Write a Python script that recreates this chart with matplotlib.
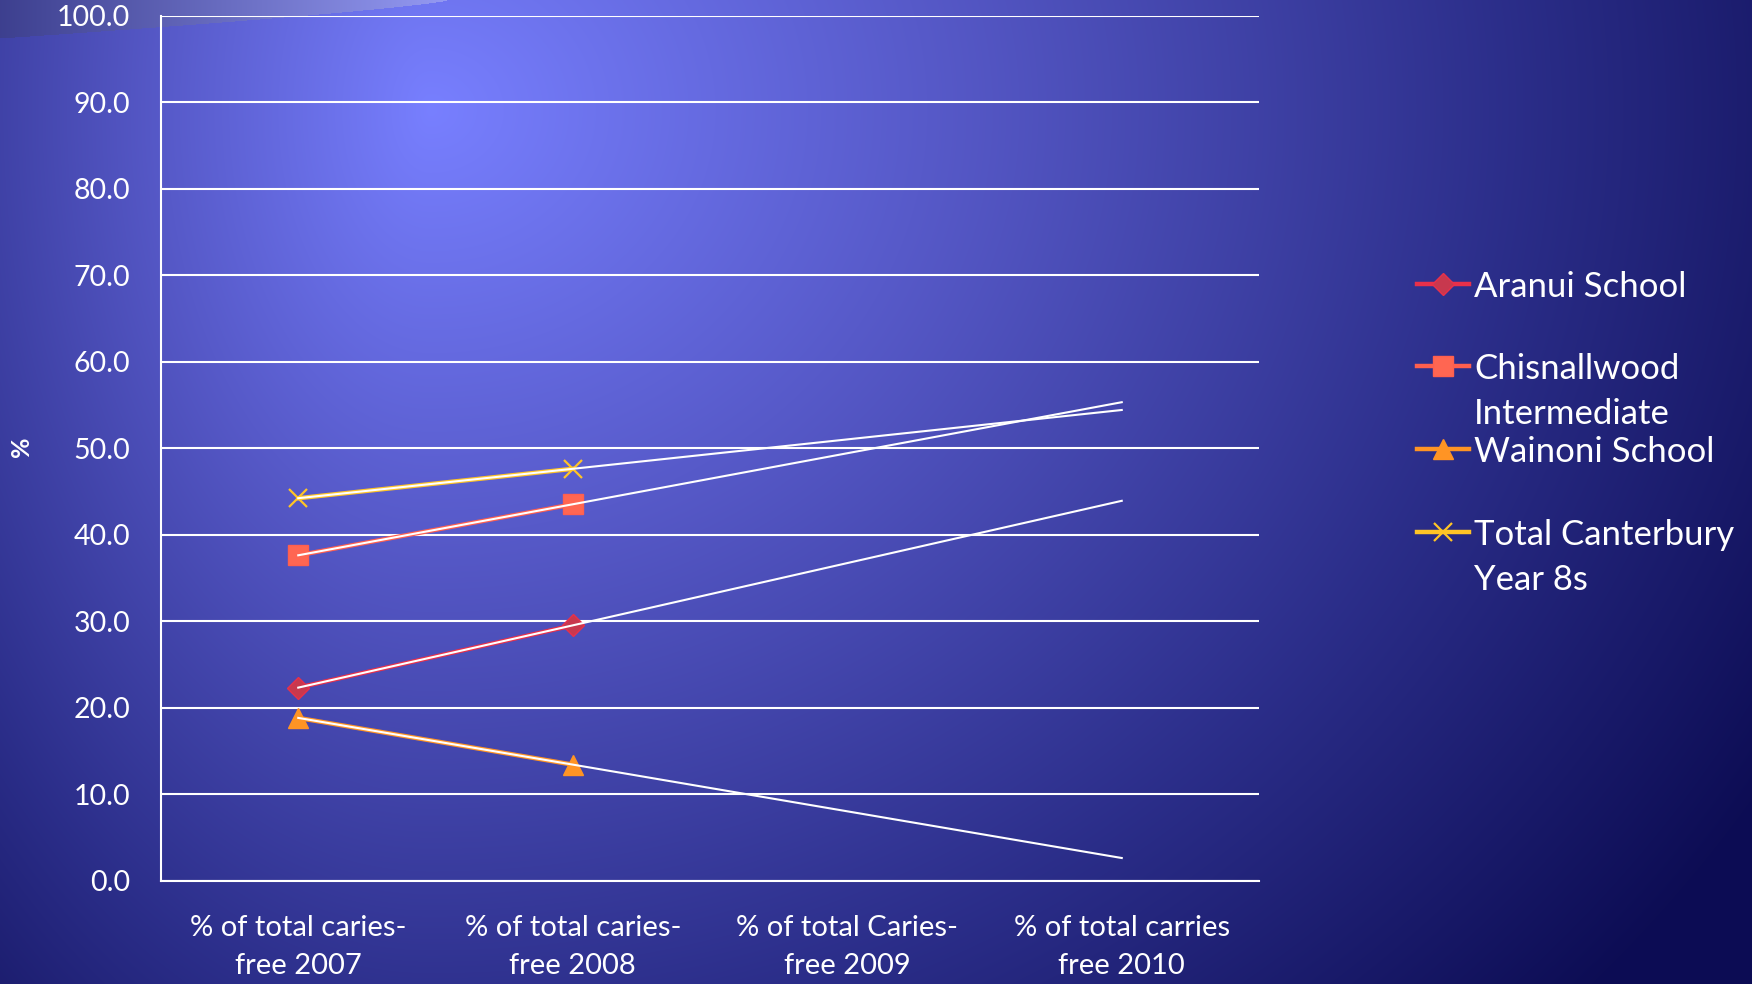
import numpy as np
import matplotlib.pyplot as plt
from matplotlib.lines import Line2D

plt.rcParams['font.family'] = ['Lato', 'DejaVu Sans']

categories = ['% of total caries-\nfree 2007', '% of total caries-\nfree 2008',
              '% of total Caries-\nfree 2009', '% of total carries\nfree 2010']
series_names = ['Aranui School', 'Chisnallwood\nIntermediate', 'Wainoni School',
                'Total Canterbury\nYear 8s']
aranui = [22.3, 29.5]
chisnallwood = [37.6, 43.5]
wainoni = [18.8, 13.4]
total_canterbury = [44.2, 47.6]

colors = ['#E8304A', '#FF5F4E', '#FF9424', '#FFC426']
marker_faces = ['#C8384E', '#FF6652', '#FF9424', '#FFC426']
markers = ['D', 's', '^', 'x']
msizes = [11, 14, 14, 13]

W, H = 1752, 984
fig = plt.figure(figsize=(W / 100, H / 100), dpi=100)

# background gradient
yy, xx = np.mgrid[0:H, 0:W].astype(float)
cx, cy = 430, 110
sx = np.where(xx < cx, 720.0, 1350.0)
d = np.sqrt(((xx - cx) / sx) ** 2 + ((yy - cy) / 1150.0) ** 2)
stops = [0.0, 0.4, 0.8, 1.15]
rgb = [(0.47, 0.50, 1.0), (0.33, 0.34, 0.77), (0.17, 0.18, 0.54), (0.05, 0.05, 0.33)]
img = np.dstack([np.interp(d, stops, [c[i] for c in rgb]) for i in range(3)])
# light swoosh in the top-left corner
curve = 38 * np.clip(1 - xx / 447.0, 0, 1) ** 0.8
mask = yy < curve
t = np.clip(xx / 447.0, 0, 1)
for i, (a, b) in enumerate(zip((0.24, 0.25, 0.56), (0.58, 0.60, 0.95))):
    img[..., i] = np.where(mask, a + (b - a) * t, img[..., i])
bg = fig.add_axes([0, 0, 1, 1], zorder=-10)
bg.imshow(img, aspect='auto', extent=[0, 1, 0, 1])
bg.axis('off')

ax = fig.add_axes([161 / W, 1 - 880.5 / H, (1259 - 161) / W, (880.5 - 15.6) / H])
ax.patch.set_alpha(0)
x = np.arange(len(categories))
data = [aranui, chisnallwood, wainoni, total_canterbury]

for vals, c, mf, m, ms in zip(data, colors, marker_faces, markers, msizes):
    xs = x[:len(vals)]
    ax.plot(xs, vals, color=c, lw=3.2, zorder=3)
    if m == 'x':
        ax.plot(xs, vals, ls='none', marker=m, ms=ms, mew=1.6, color=c, zorder=4)
    else:
        ax.plot(xs, vals, ls='none', marker=m, ms=ms, mfc=mf, mec=c, mew=1, zorder=4)
    # linear trend line forecast to 2010
    k, b = np.polyfit(xs, vals, 1)
    ax.plot(x, k * x + b, color='white', lw=1.5, zorder=5)

ax.set_xlim(-0.5, len(categories) - 0.5)
ax.set_ylim(0, 100)
ax.set_yticks(np.arange(0, 101, 10))
ax.set_yticklabels([f'{v:.1f}' for v in np.arange(0, 101, 10)])
ax.set_xticks(x)
ax.set_xticklabels(categories, linespacing=1.55)
ax.tick_params(axis='both', length=0, colors='white')
ax.tick_params(axis='x', pad=25, labelsize=21)
ax.tick_params(axis='y', pad=22, labelsize=20.5)
ax.grid(axis='y', color='white', lw=1.5)
for s in ['top', 'right']:
    ax.spines[s].set_visible(False)
ax.spines['left'].set_color('white')
ax.spines['bottom'].set_color('white')
ax.spines['left'].set_linewidth(1.5)
ax.spines['bottom'].set_linewidth(1.5)

fig.text(22 / W, 1 - 447 / H, '%', rotation=90, color='white', fontsize=18,
         fontweight='bold', ha='center', va='center')

# legend drawn by hand
leg_y = [284, 366, 449, 532]
for name, c, mf, m, ms, ly in zip(series_names, colors, marker_faces, markers, msizes, leg_y):
    yf = 1 - ly / H
    fig.add_artist(Line2D([1417 / W, 1469 / W], [yf, yf], color=c, lw=3.2))
    if m == 'x':
        fig.add_artist(Line2D([1443 / W], [yf], ls='none', marker=m, ms=ms, mew=1.6, color=c))
    else:
        fig.add_artist(Line2D([1443 / W], [yf], ls='none', marker=m, ms=ms, mfc=mf, mec=c))
    for j, line in enumerate(name.split('\n')):
        fig.text(1474 / W, 1 - (ly + 45 * j) / H, line, color='white', fontsize=25,
                 ha='left', va='center_baseline')

fig.savefig('out.png', dpi=100)
